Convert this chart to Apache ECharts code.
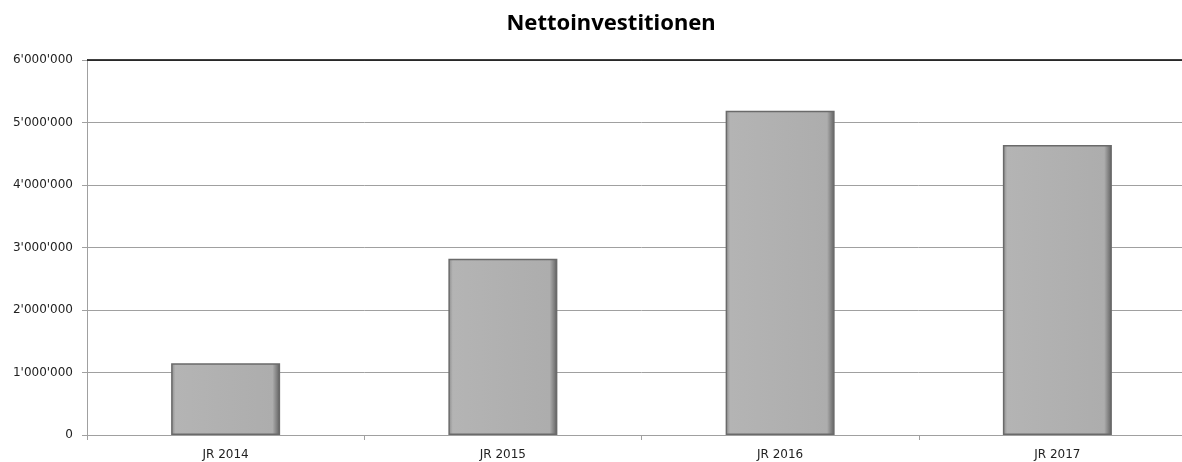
<!DOCTYPE html>
<html>
<head>
<meta charset="utf-8">
<script src="https://cdn.jsdelivr.net/npm/echarts@6/dist/echarts.min.js"></script>
<style>
  html, body { margin: 0; padding: 0; background: #fff; overflow: hidden; }
  #chart { width: 1196px; height: 462px; }
</style>
</head>
<body>
<div id="chart"></div>
<script>
// Daten
const categories = ['JR 2014', 'JR 2015', 'JR 2016', 'JR 2017'];
const nettoinvestitionen = [1150000, 2820000, 5190000, 4640000];
const yTicks = [0, 1000000, 2000000, 3000000, 4000000, 5000000, 6000000];

// Tausendertrennzeichen mit Apostroph
function fmt(v) {
  return String(v).replace(/\B(?=(\d{3})+(?!\d))/g, "'");
}

const chart = echarts.init(document.getElementById('chart'));

chart.setOption({
  animation: false,
  title: {
    text: 'Nettoinvestitionen',
    left: 606,
    textAlign: 'center',
    top: 8,
    textStyle: { fontFamily: 'Noto Sans', fontWeight: 'bold', fontSize: 22, color: '#000' }
  },
  grid: { left: 87, right: 0, top: 60, bottom: 27, containLabel: false },
  xAxis: {
    type: 'category',
    data: categories,
    axisLine: { lineStyle: { color: '#a0a0a0', width: 1 } },
    axisTick: { show: true, length: 5, lineStyle: { color: '#a0a0a0' } },
    axisLabel: { fontFamily: 'DejaVu Sans', fontSize: 12, color: '#222', margin: 14 }
  },
  yAxis: {
    type: 'value',
    min: yTicks[0],
    max: yTicks[yTicks.length - 1],
    interval: 1000000,
    axisLine: { show: true, lineStyle: { color: '#a0a0a0', width: 1 } },
    axisTick: { show: true, length: 5, lineStyle: { color: '#a0a0a0' } },
    splitLine: { lineStyle: { color: '#a0a0a0', width: 1 } },
    axisLabel: {
      fontFamily: 'DejaVu Sans', fontSize: 12, color: '#222', margin: 14,
      formatter: fmt
    }
  },
  series: [
    {
      type: 'bar',
      data: nettoinvestitionen,
      barWidth: 109,
      itemStyle: {
        color: new echarts.graphic.LinearGradient(0, 0, 1, 0, [
          { offset: 0, color: '#8a8a8a' },
          { offset: 0.04, color: '#b4b4b4' },
          { offset: 0.93, color: '#adadad' },
          { offset: 1, color: '#5e5e5e' }
        ]),
        borderColor: '#6a6a6a',
        borderWidth: 1.5
      }
    },
    {
      // schwarze Linie oben
      type: 'line',
      data: [],
      markLine: {
        silent: true,
        symbol: 'none',
        label: { show: false },
        lineStyle: { color: '#000', width: 1.5, type: 'solid' },
        data: [{ yAxis: yTicks[yTicks.length - 1] }]
      }
    }
  ]
});
</script>
</body>
</html>
